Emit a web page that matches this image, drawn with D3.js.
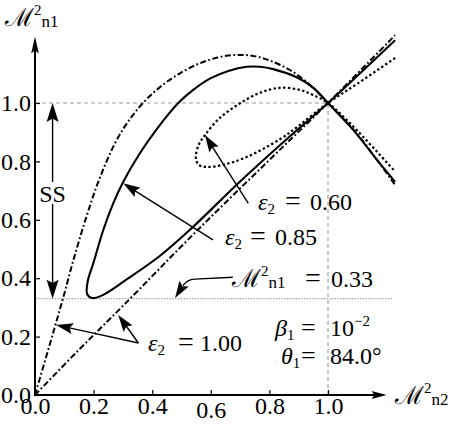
<!DOCTYPE html>
<html><head><meta charset="utf-8">
<script src="https://cdn.jsdelivr.net/npm/d3@7"></script>
<style>
body{margin:0;background:#fff}
svg{display:block}
</style>
</head><body>
<svg id="c" width="460" height="425" font-family="'Liberation Serif', Tinos, 'Times New Roman', 'DejaVu Serif', serif"></svg>
<script>
// ---------- data ----------
const xTickValues = [0, 0.2, 0.4, 0.6, 0.8, 1.0];
const xTickLabels = ["0.0", "0.2", "0.4", "0.6", "0.8", "1.0"];
const yTickValues = [0, 0.2, 0.4, 0.6, 0.8, 1.0];
const yTickLabels = ["0.0", "0.2", "0.4", "0.6", "0.8", "1.0"];
const minorTicks = [0.05,0.1,0.15,0.25,0.3,0.35,0.45,0.5,0.55,0.65,0.7,0.75,0.85,0.9,0.95,1.05,1.1,1.15];

// epsilon2 = 0.60 (dotted loop)
const eps060 = [[1.229,1.154],[1.1,1.066],[1.0,1.0],[0.9,0.922],[0.836,0.876],[0.7225,0.815],[0.64,0.788],[0.586,0.781],[0.558,0.789],[0.549,0.812],[0.558,0.855],[0.580,0.890],[0.631,0.949],[0.700,0.999],[0.768,1.035],[0.836,1.052],[0.904,1.045],[0.949,1.027],[1.0,1.0],[1.1,0.905],[1.229,0.765]];
// epsilon2 = 0.85 (solid loop)
const eps085 = [[1.229,1.215],[1.0,1.0],[0.85,0.868],[0.7,0.731],[0.529,0.566],[0.427,0.477],[0.313,0.396],[0.233,0.343],[0.195,0.332],[0.178,0.346],[0.18,0.39],[0.199,0.451],[0.233,0.565],[0.267,0.656],[0.3,0.728],[0.358,0.828],[0.415,0.91],[0.489,1.0],[0.54,1.045],[0.6,1.085],[0.66,1.11],[0.7225,1.124],[0.768,1.124],[0.813,1.116],[0.893,1.088],[0.95,1.052],[1.0,1.0],[1.086,0.908],[1.177,0.793],[1.229,0.73]];
// epsilon2 = 1.00 (dash-dot), two branches from the origin
const eps100Line = [[0,0],[0.15,0.155],[0.3,0.305],[0.55,0.56],[0.8,0.805],[1.0,1.0],[1.229,1.232]];
const eps100Outer = [[0,0],[0.035,0.12],[0.068,0.234],[0.097,0.336],[0.131,0.462],[0.176,0.612],[0.216,0.73],[0.273,0.862],[0.324,0.945],[0.38,1.012],[0.44,1.065],[0.5,1.105],[0.56,1.135],[0.62,1.155],[0.68,1.164],[0.74,1.162],[0.8,1.146],[0.87,1.113],[0.939,1.062],[1.0,1.0],[1.098,0.896],[1.229,0.719]];

const refLevel = 1.0;
const ssLevel = 0.33;
const epsLabels = ["0.60", "0.85", "1.00"];
const betaLabel = "10", betaExp = "\u22122";
const thetaLabel = "84.0\u00B0";

// ---------- drawing ----------
const FONT = "'Liberation Serif', Tinos, 'Times New Roman', 'DejaVu Serif', serif";
const svg = d3.select("#c");
const x = d3.scaleLinear().domain([0, 1]).range([35, 328]);
const y = d3.scaleLinear().domain([0, 1]).range([395, 103]);

// reference lines
svg.append("line").attr("x1", x(0)).attr("x2", x(refLevel)).attr("y1", y(refLevel)).attr("y2", y(refLevel))
  .attr("stroke", "#9a9a9a").attr("stroke-width", 1.1).attr("stroke-dasharray", "4,3");
svg.append("line").attr("x1", x(refLevel)).attr("x2", x(refLevel)).attr("y1", y(0)).attr("y2", y(refLevel))
  .attr("stroke", "#9a9a9a").attr("stroke-width", 1.1).attr("stroke-dasharray", "4,3");
svg.append("line").attr("x1", x(0)).attr("x2", x(1.22)).attr("y1", y(ssLevel)).attr("y2", y(ssLevel))
  .attr("stroke", "#a8a8a8").attr("stroke-width", 1.1).attr("stroke-dasharray", "1.6,1.2");

// axes ticks
const gx = svg.append("g").attr("transform", `translate(0,${y(0)})`);
gx.call(d3.axisBottom(x).tickValues(minorTicks).tickSize(-2.5).tickFormat(""));
gx.call(d3.axisBottom(x).tickValues(xTickValues).tickSize(-5).tickPadding(2).tickFormat((d, i) => xTickLabels[i]));
gx.selectAll(".domain").remove();
gx.selectAll("text").filter(d => d === 0.6).attr("y", 6);

const gy = svg.append("g").attr("transform", `translate(${x(0)},0)`);
gy.call(d3.axisLeft(y).tickValues(minorTicks).tickSize(-2.5).tickFormat(""));
gy.call(d3.axisLeft(y).tickValues(yTickValues).tickSize(-5).tickPadding(4).tickFormat((d, i) => yTickLabels[i]));
gy.selectAll(".domain").remove();
svg.selectAll("g").attr("font-family", FONT).attr("font-size", 24);
svg.selectAll(".tick text").attr("font-family", FONT).attr("font-size", 24).attr("fill", "#000");
svg.selectAll(".tick line").attr("stroke", "#000").attr("stroke-width", 1.2);

// arrow helpers
function head(x2, y2, ang, len, hw, notch) {
  const c = Math.cos(ang), s = Math.sin(ang);
  const bx = x2 - len * c, by = y2 - len * s;
  const nx = x2 - len * notch * c, ny = y2 - len * notch * s;
  const pts = [[x2, y2], [bx - hw * s, by + hw * c], [nx, ny], [bx + hw * s, by - hw * c]];
  svg.append("polygon").attr("points", pts.map(p => p.join(",")).join(" ")).attr("fill", "#000");
}
function arrow(x1, y1, x2, y2, len, hw, w) {
  const ang = Math.atan2(y2 - y1, x2 - x1);
  svg.append("line").attr("x1", x1).attr("y1", y1)
    .attr("x2", x2 - len * 0.8 * Math.cos(ang)).attr("y2", y2 - len * 0.8 * Math.sin(ang))
    .attr("stroke", "#000").attr("stroke-width", w);
  head(x2, y2, ang, len, hw, 0.82);
}
arrow(x(0) - 1, y(0), x(1.2), y(0), 15, 4, 2);
arrow(x(0), y(0) + 1, x(0), y(1.228), 17, 3.8, 2);

// curves
const line = d3.line().x(d => x(d[0])).y(d => y(d[1])).curve(d3.curveCatmullRom.alpha(0.5));
svg.append("path").attr("d", line(eps100Line)).attr("fill", "none").attr("stroke", "#000")
  .attr("stroke-width", 2).attr("stroke-dasharray", "6,2.5,1.8,2.5");
svg.append("path").attr("d", line(eps100Outer)).attr("fill", "none").attr("stroke", "#000")
  .attr("stroke-width", 2).attr("stroke-dasharray", "6,2.5,1.8,2.5");
svg.append("path").attr("d", line(eps085)).attr("fill", "none").attr("stroke", "#000")
  .attr("stroke-width", 2.1);
svg.append("path").attr("d", line(eps060)).attr("fill", "none").attr("stroke", "#000")
  .attr("stroke-width", 2.2).attr("stroke-dasharray", "2.4,2.4");

// annotation arrows
arrow(x(0.728), y(0.656), x(0.580), y(0.890), 17, 5.5, 1.4);   // 0.60
arrow(x(0.6075), y(0.531), x(0.301), y(0.725), 17, 5.5, 1.4);  // 0.85
arrow(x(0.353), y(0.178), x(0.072), y(0.240), 17, 5.5, 1.4);   // 1.00 outer
arrow(x(0.353), y(0.178), x(0.284), y(0.274), 17, 5.5, 1.4);   // 1.00 line
// M_n1 = 0.33 arrow (bent)
svg.append("path").attr("d", `M${x(0.675)},${y(0.403)} L${x(0.545)},${y(0.397)} Q${x(0.52)},${y(0.396)} ${x(0.505)},${y(0.375)}`)
  .attr("fill", "none").attr("stroke", "#000").attr("stroke-width", 1.4);
head(x(0.478), y(0.332), Math.atan2(y(0.332) - y(0.375), x(0.478) - x(0.505)), 17, 5.5, 0.82);

// SS double arrow
const ssx = x(0.06);
svg.append("line").attr("x1", ssx).attr("x2", ssx).attr("y1", y(refLevel) + 14).attr("y2", y(ssLevel) - 14)
  .attr("stroke", "#000").attr("stroke-width", 1.4);
head(ssx, y(refLevel), -Math.PI / 2, 19, 6, 0.82);
head(ssx, y(ssLevel), Math.PI / 2, 19, 6, 0.82);
svg.append("rect").attr("x", ssx - 15).attr("y", 182).attr("width", 30).attr("height", 22).attr("fill", "#fff");
svg.append("text").attr("x", ssx).attr("y", 202).attr("text-anchor", "middle")
  .attr("font-family", FONT).attr("font-size", 24).text("SS");

// labels
function txt(xs, yb) {
  return svg.append("text").attr("x", xs).attr("y", yb).attr("font-family", FONT).attr("font-size", 24);
}
function epsText(xs, xe, xv, yb, val) {
  const t = txt(xs, yb);
  t.append("tspan").attr("font-style", "italic").text("\u03B5");
  t.append("tspan").attr("font-size", 15).attr("dy", 4).text("2");
  t.append("tspan").attr("x", xe).attr("dy", -4).attr("font-size", 28).text("=");
  t.append("tspan").attr("x", xv).text(val);
}
epsText(258, 285, 310, 210, epsLabels[0]);
epsText(225, 250, 275, 245, epsLabels[1]);
epsText(148, 178, 200, 351, epsLabels[2]);

function mLabel(xs, yb, sub) {
  const t = txt(xs, yb);
  t.append("tspan").attr("font-family", "'DejaVu Serif', serif").attr("font-size", 25).text("\u2133");
  t.append("tspan").attr("font-size", 15).attr("dy", -11).text("2");
  t.append("tspan").attr("font-size", 17).attr("dy", 12).text(sub);
  return t;
}
const m033 = mLabel(232, 287, "n1");
m033.append("tspan").attr("x", 305).attr("dy", -1).attr("font-size", 28).text("=");
m033.append("tspan").attr("x", 331).text("0.33");

mLabel(5, 26, "n1");
mLabel(395, 404, "n2");

// beta, theta
const tb = txt(275, 336);
tb.append("tspan").attr("font-style", "italic").text("\u03B2");
tb.append("tspan").attr("font-size", 15).attr("dy", 4).text("1");
tb.append("tspan").attr("x", 301).attr("dy", -4).attr("font-size", 26).text("=");
tb.append("tspan").attr("x", 330).text(betaLabel);
tb.append("tspan").attr("font-size", 15).attr("dy", -10).text(betaExp);

const tt = txt(281, 364);
tt.append("tspan").attr("font-style", "italic").text("\u03B8");
tt.append("tspan").attr("font-size", 15).attr("dy", 4).text("1");
tt.append("tspan").attr("x", 301).attr("dy", -4).attr("font-size", 26).text("=");
tt.append("tspan").attr("x", 330).text(thetaLabel);
</script>
</body></html>
